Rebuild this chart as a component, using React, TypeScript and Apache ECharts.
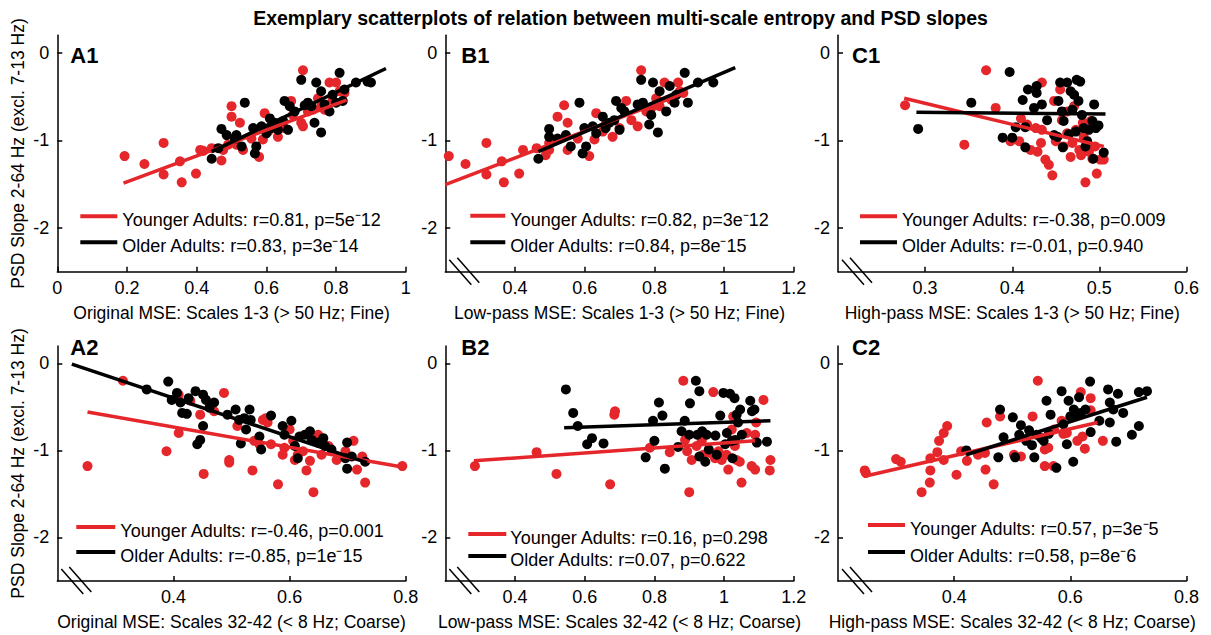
import { useEffect, useRef } from "react";
import * as echarts from "echarts";

const FONT = "'Liberation Sans', Arial, Helvetica, sans-serif";
const RED = "#e5262b";
const BLACK = "#000000";

// ---- Panel A1: Original MSE, scales 1-3 ----
const a1Young = [
  [0.193, -1.18], [0.25, -1.27], [0.305, -1.03], [0.305, -1.39], [0.352, -1.24], [0.357, -1.48],
  [0.398, -1.38], [0.41, -1.11], [0.419, -1.12], [0.443, -1.09], [0.471, -1.23], [0.476, -1.11],
  [0.5, -0.61], [0.5, -0.73], [0.524, -0.8], [0.49, -1.05], [0.514, -1.05], [0.533, -1.11],
  [0.557, -0.98], [0.579, -1.19], [0.59, -0.99], [0.595, -0.69], [0.605, -0.9], [0.619, -0.82],
  [0.633, -0.96], [0.652, -0.86], [0.671, -0.55], [0.676, -0.71], [0.7, -0.8], [0.705, -0.2],
  [0.705, -0.84], [0.719, -0.67], [0.733, -0.65], [0.748, -0.52], [0.757, -0.61], [0.767, -0.65],
  [0.781, -0.34], [0.79, -0.54], [0.8, -0.34], [0.81, -0.44], [0.824, -0.46],
];
const a1Old = [
  [0.443, -1.21], [0.462, -1.09], [0.471, -0.87], [0.486, -0.94], [0.509, -0.98], [0.514, -0.94],
  [0.529, -1.07], [0.538, -0.57], [0.562, -0.86], [0.567, -1.15], [0.571, -1.07], [0.586, -0.84],
  [0.6, -0.92], [0.61, -0.75], [0.614, -0.86], [0.624, -0.8], [0.633, -0.88], [0.652, -0.55],
  [0.648, -0.78], [0.662, -0.88], [0.667, -0.61], [0.681, -0.67], [0.7, -0.31], [0.71, -0.6],
  [0.719, -0.57], [0.729, -0.61], [0.738, -0.8], [0.743, -0.34], [0.757, -0.91], [0.757, -0.44],
  [0.767, -0.59], [0.781, -0.67], [0.79, -0.48], [0.8, -0.57], [0.81, -0.23], [0.819, -0.55],
  [0.824, -0.42], [0.857, -0.34], [0.89, -0.33], [0.9, -0.34],
];
const a1YoungFit = [[0.19, -1.49], [0.83, -0.54]];
const a1OldFit = [[0.443, -1.13], [0.943, -0.18]];

// ---- Panel B1: Low-pass MSE, scales 1-3 ----
const b1Young = [
  [0.21, -1.18], [0.258, -1.27], [0.318, -1.03], [0.318, -1.39], [0.362, -1.24], [0.368, -1.48],
  [0.412, -1.38], [0.423, -1.11], [0.462, -1.09], [0.488, -1.17], [0.498, -1.11], [0.498, -1.03],
  [0.522, -0.73], [0.541, -0.6], [0.551, -0.8], [0.551, -1.11], [0.58, -0.98], [0.613, -1.18],
  [0.628, -0.99], [0.633, -0.69], [0.652, -0.9], [0.66, -0.82], [0.68, -0.96], [0.7, -0.86],
  [0.719, -0.55], [0.734, -0.77], [0.752, -0.84], [0.762, -0.2], [0.777, -0.67], [0.791, -0.63],
  [0.805, -0.52], [0.815, -0.61], [0.829, -0.34], [0.849, -0.54], [0.868, -0.34], [0.873, -0.44],
  [0.883, -0.46],
];
const b1Old = [
  [0.467, -1.21], [0.498, -0.87], [0.498, -0.96], [0.522, -0.98], [0.546, -0.94], [0.56, -1.07],
  [0.585, -0.57], [0.599, -0.86], [0.594, -1.15], [0.604, -1.07], [0.623, -0.84], [0.633, -0.92],
  [0.652, -0.73], [0.66, -0.86], [0.671, -0.8], [0.685, -0.77], [0.69, -0.55], [0.7, -0.88],
  [0.705, -0.63], [0.714, -0.67], [0.752, -0.59], [0.762, -0.31], [0.767, -0.57], [0.785, -0.82],
  [0.791, -0.71], [0.796, -0.34], [0.81, -0.91], [0.815, -0.44], [0.834, -0.67], [0.844, -0.38],
  [0.858, -0.57], [0.863, -0.48], [0.887, -0.23], [0.896, -0.57], [0.925, -0.34], [0.969, -0.34],
];
const b1YoungFit = [[0.2, -1.505], [0.88, -0.47]];
const b1OldFit = [[0.467, -1.13], [1.032, -0.17]];

// ---- Panel C1: High-pass MSE, scales 1-3 ----
const c1Young = [
  [0.277, -0.6], [0.37, -0.2], [0.345, -1.05], [0.381, -0.63], [0.398, -1.01], [0.408, -1.01],
  [0.41, -0.75], [0.417, -0.82], [0.421, -1.11], [0.427, -0.86], [0.429, -1.13], [0.433, -1.03],
  [0.434, -0.34], [0.434, -0.88], [0.438, -1.22], [0.442, -1.28], [0.446, -1.4], [0.45, -1.01],
  [0.448, -0.55], [0.455, -0.42], [0.457, -0.77], [0.459, -1.07], [0.463, -0.92], [0.463, -0.67],
  [0.467, -1.19], [0.469, -1.03], [0.471, -0.61], [0.473, -0.88], [0.477, -1.11], [0.479, -1.17],
  [0.481, -0.8], [0.482, -0.96], [0.484, -1.48], [0.488, -1.13], [0.49, -0.78], [0.492, -1.21],
  [0.495, -1.07], [0.497, -1.38], [0.501, -1.22], [0.505, -1.22],
];
const c1Old = [
  [0.292, -0.87], [0.353, -0.57], [0.397, -0.22], [0.389, -0.97], [0.4, -0.97], [0.404, -0.85],
  [0.412, -0.54], [0.415, -0.85], [0.415, -1.08], [0.418, -0.42], [0.425, -0.63], [0.428, -0.46],
  [0.428, -0.38], [0.434, -0.59], [0.44, -0.77], [0.448, -0.94], [0.452, -0.96], [0.453, -0.55],
  [0.455, -0.34], [0.457, -0.67], [0.458, -1.08], [0.459, -0.78], [0.463, -0.34], [0.465, -0.93],
  [0.467, -0.44], [0.469, -0.65], [0.471, -0.48], [0.473, -0.9], [0.474, -0.31], [0.476, -0.55],
  [0.478, -0.33], [0.48, -0.71], [0.482, -0.86], [0.484, -1.07], [0.486, -1.01], [0.488, -0.88],
  [0.492, -0.78], [0.493, -1.21], [0.494, -0.59], [0.496, -0.86], [0.499, -0.83], [0.505, -1.14],
];
const c1YoungFit = [[0.276, -0.52], [0.505, -1.07]];
const c1OldFit = [[0.29, -0.68], [0.507, -0.7]];

// ---- Panel A2: Original MSE, scales 32-42 ----
const a2Young = [
  [0.252, -1.18], [0.313, -0.2], [0.388, -1.01], [0.409, -0.8], [0.409, -0.36], [0.429, -0.43],
  [0.446, -0.59], [0.452, -1.27], [0.47, -0.55], [0.487, -0.34], [0.496, -1.11], [0.496, -1.14],
  [0.51, -0.72], [0.536, -1.23], [0.539, -0.89], [0.548, -0.93], [0.554, -0.65], [0.559, -0.63],
  [0.562, -0.68], [0.568, -0.93], [0.58, -1.39], [0.588, -1.05], [0.591, -0.97], [0.6, -0.76],
  [0.606, -0.89], [0.609, -1.11], [0.614, -1.05], [0.623, -1.01], [0.629, -1.23], [0.635, -1.12],
  [0.641, -1.48], [0.649, -0.82], [0.655, -1.05], [0.667, -0.95], [0.681, -1.11], [0.696, -1.01],
  [0.71, -0.89], [0.716, -1.22], [0.725, -1.07], [0.73, -1.37], [0.794, -1.18],
];
const a2Old = [
  [0.354, -0.3], [0.391, -0.21], [0.397, -0.42], [0.406, -0.34], [0.412, -0.45], [0.415, -0.57],
  [0.423, -0.58], [0.426, -0.4], [0.438, -0.32], [0.441, -0.93], [0.446, -0.88], [0.451, -0.72],
  [0.451, -0.36], [0.456, -0.42], [0.462, -0.51], [0.47, -0.45], [0.493, -0.59], [0.507, -0.53],
  [0.513, -0.65], [0.516, -0.92], [0.522, -0.63], [0.525, -0.76], [0.531, -0.53], [0.533, -0.65],
  [0.548, -0.84], [0.551, -0.99], [0.568, -0.6], [0.588, -0.72], [0.591, -0.82], [0.603, -0.66],
  [0.609, -0.95], [0.614, -1.09], [0.617, -0.84], [0.626, -0.82], [0.635, -0.78], [0.638, -0.88],
  [0.649, -0.91], [0.658, -0.86], [0.661, -0.95], [0.672, -0.99], [0.696, -1.09], [0.699, -0.91],
  [0.699, -1.21], [0.707, -1.07], [0.73, -1.13],
];
const a2YoungFit = [[0.252, -0.56], [0.794, -1.19]];
const a2OldFit = [[0.225, -0.01], [0.733, -1.14]];

// ---- Panel B2: Low-pass MSE, scales 32-42 ----
const b2Young = [
  [0.285, -1.18], [0.462, -1.02], [0.519, -1.27], [0.673, -1.39], [0.685, -0.59], [0.687, -0.55],
  [0.787, -0.97], [0.844, -1.02], [0.883, -0.2], [0.888, -0.88], [0.894, -1.01], [0.9, -1.48],
  [0.907, -1.11], [0.921, -0.95], [0.936, -0.89], [0.94, -1.05], [0.96, -1.03], [0.969, -0.33],
  [0.974, -1.09], [0.984, -1.01], [0.993, -1.11], [1.007, -1.05], [1.012, -1.22], [1.022, -0.76],
  [1.026, -0.61], [1.031, -0.95], [1.036, -1.11], [1.045, -1.13], [1.05, -1.37], [1.065, -0.8],
  [1.079, -1.18], [1.089, -1.22], [1.089, -0.82], [1.092, -0.68], [1.113, -0.42], [1.133, -1.11],
  [1.131, -1.23],
];
const b2Old = [
  [0.546, -0.3], [0.567, -0.57], [0.58, -0.72], [0.607, -0.93], [0.621, -0.86], [0.654, -0.92],
  [0.775, -1.08], [0.796, -0.66], [0.8, -0.89], [0.813, -0.45], [0.823, -0.6], [0.83, -1.21],
  [0.868, -0.96], [0.878, -0.78], [0.887, -0.66], [0.9, -0.82], [0.902, -0.46], [0.919, -0.2],
  [0.923, -0.82], [0.929, -0.32], [0.929, -1.07], [0.937, -0.78], [0.946, -1.13], [0.95, -0.82],
  [0.956, -0.99], [0.975, -0.83], [0.979, -1.05], [0.989, -0.6], [0.998, -0.34], [1.003, -0.93],
  [1.008, -0.8], [1.017, -0.35], [1.022, -0.89], [1.024, -1.09], [1.03, -0.4], [1.032, -0.88],
  [1.036, -0.59], [1.04, -0.68], [1.046, -0.53], [1.051, -0.82], [1.075, -0.43], [1.08, -0.55],
  [1.087, -0.53], [1.094, -0.91], [1.123, -0.9],
];
const b2YoungFit = [[0.282, -1.12], [1.089, -0.89]];
const b2OldFit = [[0.541, -0.74], [1.133, -0.66]];

// ---- Panel C2: High-pass MSE, scales 32-42 ----
const c2Young = [
  [0.246, -1.23], [0.248, -1.26], [0.3, -1.1], [0.308, -1.13], [0.344, -1.48], [0.358, -1.37],
  [0.359, -1.23], [0.359, -1.09], [0.371, -1.02], [0.374, -0.89], [0.382, -1.11], [0.382, -0.8],
  [0.388, -0.72], [0.404, -1.28], [0.412, -1.01], [0.422, -1.12], [0.441, -1.05], [0.453, -1.03],
  [0.454, -1.22], [0.456, -0.68], [0.468, -1.39], [0.479, -0.61], [0.503, -1.05], [0.515, -1.07],
  [0.535, -0.61], [0.544, -0.2], [0.556, -0.99], [0.556, -1.18], [0.562, -0.97], [0.571, -1.18],
  [0.572, -0.76], [0.585, -0.66], [0.588, -0.81], [0.594, -0.8], [0.612, -0.89], [0.618, -0.33],
  [0.621, -0.84], [0.625, -0.98], [0.635, -0.4], [0.635, -0.54], [0.656, -0.89],
];
const c2Old = [
  [0.421, -1.0], [0.479, -0.53], [0.476, -1.08], [0.485, -0.85], [0.501, -0.62], [0.505, -1.08],
  [0.512, -0.82], [0.515, -0.71], [0.524, -0.89], [0.529, -0.77], [0.534, -0.94], [0.538, -1.08],
  [0.542, -0.82], [0.55, -0.86], [0.554, -0.89], [0.559, -0.43], [0.563, -0.81], [0.566, -0.59],
  [0.576, -1.2], [0.585, -0.32], [0.588, -0.7], [0.594, -0.93], [0.597, -0.43], [0.6, -0.61],
  [0.605, -1.13], [0.606, -0.53], [0.611, -0.59], [0.615, -0.39], [0.618, -0.57], [0.626, -0.53],
  [0.634, -0.21], [0.635, -0.79], [0.65, -0.66], [0.665, -0.3], [0.668, -0.45], [0.668, -0.68],
  [0.674, -0.53], [0.679, -0.9], [0.682, -0.35], [0.691, -0.57], [0.706, -0.82], [0.718, -0.72],
  [0.718, -0.33], [0.732, -0.32],
];
const c2YoungFit = [[0.244, -1.3], [0.647, -0.68]];
const c2OldFit = [[0.421, -1.05], [0.732, -0.39]];

// ---- Labels and axis settings ----
const TITLE = "Exemplary scatterplots of relation between multi-scale entropy and PSD slopes";
const Y_NAME = "PSD Slope 2-64 Hz (excl. 7-13 Hz)";
const panelIds = ["A1", "B1", "C1", "A2", "B2", "C2"];
const xNames = [
  "Original MSE: Scales 1-3 (> 50 Hz; Fine)",
  "Low-pass MSE: Scales 1-3 (> 50 Hz; Fine)",
  "High-pass MSE: Scales 1-3 (> 50 Hz; Fine)",
  "Original MSE: Scales 32-42 (< 8 Hz; Coarse)",
  "Low-pass MSE: Scales 32-42 (< 8 Hz; Coarse)",
  "High-pass MSE: Scales 32-42 (< 8 Hz; Coarse)",
];
const xRanges = [[0, 1], [0.2, 1.2], [0.2, 0.6], [0.2, 0.8], [0.2, 1.2], [0.2, 0.8]];
const xTicks = [
  [0, 0.2, 0.4, 0.6, 0.8, 1],
  [0.4, 0.6, 0.8, 1, 1.2],
  [0.3, 0.4, 0.5, 0.6],
  [0.4, 0.6, 0.8],
  [0.4, 0.6, 0.8, 1, 1.2],
  [0.4, 0.6, 0.8],
];
const yRange = [-2.5, 0.2];
const yTicks = [-2, -1, 0];
const youngStats = [
  "r=0.81, p=5e\u207B12",
  "r=0.82, p=3e\u207B12",
  "r=-0.38, p=0.009",
  "r=-0.46, p=0.001",
  "r=0.16, p=0.298",
  "r=0.57, p=3e\u207B5",
];
const oldStats = [
  "r=0.83, p=3e\u207B14",
  "r=0.84, p=8e\u207B15",
  "r=-0.01, p=0.940",
  "r=-0.85, p=1e\u207B15",
  "r=0.07, p=0.622",
  "r=0.58, p=8e\u207B6",
];
const youngData = [a1Young, b1Young, c1Young, a2Young, b2Young, c2Young];
const oldData = [a1Old, b1Old, c1Old, a2Old, b2Old, c2Old];
const youngFits = [a1YoungFit, b1YoungFit, c1YoungFit, a2YoungFit, b2YoungFit, c2YoungFit];
const oldFits = [a1OldFit, b1OldFit, c1OldFit, a2OldFit, b2OldFit, c2OldFit];

// ---- Layout (pixels) ----
const colLeft = [57.3, 445.3, 838];
const plotWidth = 348.5;
const rowTop = [35.2, 345.9];
const rowHeight = [236.5, 235.1];
// legend placement inside each plot: [lineStart, lineEnd, textX, row1Y, row2Y]
const legendPos = [
  [23, 60, 65, 181, 207],
  [25, 60, 65, 180.5, 207],
  [22, 59, 64, 181, 207],
  [19, 58, 63, 181, 206],
  [23, 61, 65, 188, 210],
  [30, 67, 72, 179, 206],
];
const labelPos = [
  [13, 20], [16, 20], [14, 20],
  [13, 2], [16, 2], [14, 2],
];

function buildOption() {
  const grids: any[] = [];
  const xAxes: any[] = [];
  const yAxes: any[] = [];
  const series: any[] = [];
  const graphics: any[] = [];

  graphics.push({
    type: "text",
    x: 620.5,
    y: 18,
    z: 10,
    style: {
      text: TITLE,
      fill: BLACK,
      fontFamily: FONT,
      fontSize: 19.5,
      fontWeight: "bold",
      textAlign: "center",
      align: "center",
      textVerticalAlign: "middle",
      verticalAlign: "middle",
    },
  });

  panelIds.forEach((id, i) => {
    const col = i % 3;
    const row = Math.floor(i / 3);
    const left = colLeft[col];
    const top = rowTop[row];
    const height = rowHeight[row];
    const bottom = top + height;

    grids.push({ left, top, width: plotWidth, height, containLabel: false, outerBoundsMode: "none" });

    xAxes.push({
      type: "value",
      gridIndex: i,
      min: xRanges[i][0],
      max: xRanges[i][1],
      name: xNames[i],
      nameLocation: "middle",
      nameGap: 32,
      nameMoveOverlap: false,
      nameTextStyle: { fontSize: 17.5, color: BLACK, fontFamily: FONT },
      axisLine: { show: true, onZero: false, lineStyle: { color: BLACK, width: 1.5 } },
      axisTick: { show: true, inside: true, length: 5, customValues: xTicks[i], lineStyle: { color: BLACK, width: 1.5 } },
      axisLabel: { show: true, customValues: xTicks[i], fontSize: 18, color: BLACK, margin: 7, fontFamily: FONT },
      splitLine: { show: false },
    });

    yAxes.push({
      type: "value",
      gridIndex: i,
      min: yRange[0],
      max: yRange[1],
      name: col === 0 ? Y_NAME : "",
      nameLocation: "middle",
      nameGap: 30,
      nameMoveOverlap: false,
      nameTextStyle: { fontSize: 17.5, color: BLACK, fontFamily: FONT },
      axisLine: { show: true, onZero: false, lineStyle: { color: BLACK, width: 1.5 } },
      axisTick: { show: true, inside: true, length: 5, customValues: yTicks, lineStyle: { color: BLACK, width: 1.5 } },
      axisLabel: { show: true, customValues: yTicks, fontSize: 18, color: BLACK, margin: 8, fontFamily: FONT },
      splitLine: { show: false },
    });

    series.push(
      {
        name: "Younger Adults",
        type: "scatter",
        xAxisIndex: i,
        yAxisIndex: i,
        data: youngData[i],
        symbolSize: 10,
        itemStyle: { color: RED, opacity: 1 },
        z: 2,
      },
      {
        name: "Older Adults",
        type: "scatter",
        xAxisIndex: i,
        yAxisIndex: i,
        data: oldData[i],
        symbolSize: 10,
        itemStyle: { color: BLACK, opacity: 1 },
        z: 3,
      },
      {
        name: "Younger Adults fit",
        type: "line",
        xAxisIndex: i,
        yAxisIndex: i,
        data: youngFits[i],
        symbol: "none",
        lineStyle: { color: RED, width: 3.5 },
        z: 4,
      },
      {
        name: "Older Adults fit",
        type: "line",
        xAxisIndex: i,
        yAxisIndex: i,
        data: oldFits[i],
        symbol: "none",
        lineStyle: { color: BLACK, width: 3.5 },
        z: 5,
      }
    );

    // panel letter
    graphics.push({
      type: "text",
      x: left + labelPos[i][0],
      y: top + labelPos[i][1],
      z: 10,
      style: {
        text: id,
        fill: BLACK,
        fontFamily: FONT,
        fontSize: 22,
        fontWeight: "bold",
        textAlign: "left",
        align: "left",
        textVerticalAlign: "middle",
        verticalAlign: "middle",
      },
    });

    // legend
    const lp = legendPos[i];
    const entries = [
      { color: RED, text: "Younger Adults: " + youngStats[i], y: top + lp[3] },
      { color: BLACK, text: "Older Adults: " + oldStats[i], y: top + lp[4] },
    ];
    entries.forEach((e) => {
      graphics.push({
        type: "line",
        z: 10,
        shape: { x1: left + lp[0], y1: e.y, x2: left + lp[1], y2: e.y },
        style: { stroke: e.color, lineWidth: 4 },
      });
      graphics.push({
        type: "text",
        x: left + lp[2],
        y: e.y + 4,
        z: 10,
        style: {
          text: e.text,
          fill: BLACK,
          fontFamily: FONT,
          fontSize: 18,
          textAlign: "left",
          align: "left",
          textVerticalAlign: "middle",
          verticalAlign: "middle",
        },
      });
    });

    // axis break marks where the x axis does not start at zero
    if (xRanges[i][0] !== 0) {
      const bx = left;
      const by = bottom;
      graphics.push(
        {
          type: "line",
          z: 10,
          shape: { x1: bx + 4, y1: by - 12, x2: bx + 26, y2: by + 13 },
          style: { stroke: BLACK, lineWidth: 1.5 },
        },
        {
          type: "line",
          z: 10,
          shape: { x1: bx + 12, y1: by - 14, x2: bx + 34, y2: by + 11 },
          style: { stroke: BLACK, lineWidth: 1.5 },
        }
      );
    }
  });

  return {
    animation: false,
    backgroundColor: "#ffffff",
    textStyle: { fontFamily: FONT },
    grid: grids,
    xAxis: xAxes,
    yAxis: yAxes,
    series,
    graphic: graphics,
  };
}

export default function App() {
  const ref = useRef<HTMLDivElement>(null);

  useEffect(() => {
    if (!ref.current) return;
    const chart = echarts.init(ref.current, undefined, { renderer: "svg" });
    chart.setOption(buildOption() as any);
    return () => {
      chart.dispose();
    };
  }, []);

  return (
    <div
      ref={ref}
      style={{ position: "fixed", left: 0, top: 0, width: 1211, height: 635, background: "#fff" }}
    />
  );
}
